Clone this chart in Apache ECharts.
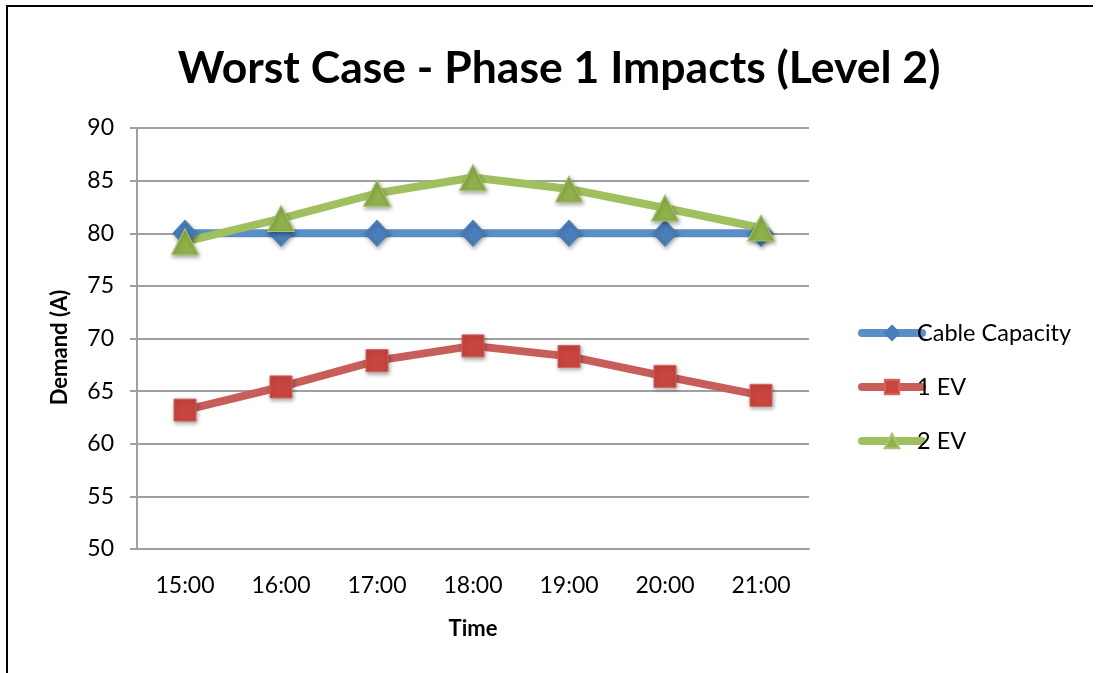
<!DOCTYPE html>
<html>
<head>
<meta charset="utf-8">
<script src="https://cdn.jsdelivr.net/npm/echarts@6/dist/echarts.min.js"></script>
<style>
  html, body { margin: 0; padding: 0; background: #fff; }
  #chart { width: 1099px; height: 673px; }
</style>
</head>
<body>
<div id="chart"></div>
<script>
// Hourly demand on phase 1 against the cable rating
const times = ['15:00', '16:00', '17:00', '18:00', '19:00', '20:00', '21:00'];
const cableCapacity = [80, 80, 80, 80, 80, 80, 80];
const oneEV = [63.2, 65.4, 67.9, 69.3, 68.3, 66.4, 64.6];
const twoEV = [79.2, 81.4, 83.8, 85.3, 84.2, 82.4, 80.5];
const yTicks = { min: 50, max: 90, interval: 5 };

const FONT = 'Lato, "Open Sans", sans-serif';
const shadow = { shadowBlur: 4, shadowColor: 'rgba(0,0,0,0.35)', shadowOffsetX: 1, shadowOffsetY: 2 };

const chart = echarts.init(document.getElementById('chart'));
chart.setOption({
  backgroundColor: '#ffffff',
  animation: false,
  title: {
    text: 'Worst Case - Phase 1 Impacts (Level 2)',
    left: 554, top: 41, textAlign: 'center',
    textStyle: { fontFamily: FONT, fontSize: 44.5, fontWeight: 'bold', color: '#000' }
  },
  graphic: [
    { type: 'line', shape: { x1: 6, y1: 6, x2: 1093, y2: 6 }, style: { stroke: '#000', lineWidth: 2 } },
    { type: 'line', shape: { x1: 7, y1: 5, x2: 7, y2: 673 }, style: { stroke: '#000', lineWidth: 2 } }
  ],
  grid: { left: 137, right: 290, top: 128, bottom: 124 },
  legend: {
    orient: 'vertical', left: 853, top: 316, itemGap: 30,
    itemWidth: 60, itemHeight: 18,
    lineStyle: { width: 8, cap: 'round' },
    textStyle: { fontFamily: FONT, fontSize: 23.5, color: '#000', padding: [0, 0, 0, -10] },
    data: ['Cable Capacity', '1 EV', '2 EV']
  },
  xAxis: {
    type: 'category', data: times, boundaryGap: true,
    name: 'Time', nameLocation: 'middle', nameGap: 69,
    nameTextStyle: { fontFamily: FONT, fontSize: 22, fontWeight: 'bold', color: '#000' },
    axisLine: { lineStyle: { color: '#a0a0a0', width: 2 } },
    axisTick: { show: false },
    axisLabel: { fontFamily: FONT, fontSize: 23, color: '#000', margin: 25 }
  },
  yAxis: {
    type: 'value', min: yTicks.min, max: yTicks.max, interval: yTicks.interval,
    name: 'Demand (A)', nameLocation: 'middle', nameGap: 66, nameRotate: 90,
    nameTextStyle: { fontFamily: FONT, fontSize: 22, fontWeight: 'bold', color: '#000', padding: [0, 0, 0, -18] },
    axisLine: { show: true, lineStyle: { color: '#a0a0a0', width: 2 } },
    axisTick: { show: true, length: 7, lineStyle: { color: '#a0a0a0', width: 2 } },
    axisLabel: { fontFamily: FONT, fontSize: 23, color: '#000', margin: 23 },
    splitLine: { lineStyle: { color: '#a0a0a0', width: 2 } }
  },
  series: [
    {
      name: 'Cable Capacity', type: 'line', data: cableCapacity,
      symbol: 'diamond', symbolSize: [24, 26],
      lineStyle: { color: '#5a8ec6', width: 8, cap: 'round' },
      itemStyle: Object.assign({ color: '#4a7ebb', borderColor: '#4a7ebb', borderWidth: 1 }, shadow)
    },
    {
      name: '1 EV', type: 'line', data: oneEV,
      symbol: 'rect', symbolSize: 22,
      lineStyle: { color: '#c75e5a', width: 8, cap: 'round' },
      itemStyle: Object.assign({ color: '#c9453f', borderColor: '#d8645f', borderWidth: 1 }, shadow)
    },
    {
      name: '2 EV', type: 'line', data: twoEV,
      symbol: 'triangle', symbolSize: [27, 26],
      lineStyle: { color: '#a0c060', width: 8, cap: 'round' },
      itemStyle: Object.assign({ color: '#8fb04a', borderColor: '#a7c66c', borderWidth: 1 }, shadow)
    }
  ]
});
</script>
</body>
</html>
